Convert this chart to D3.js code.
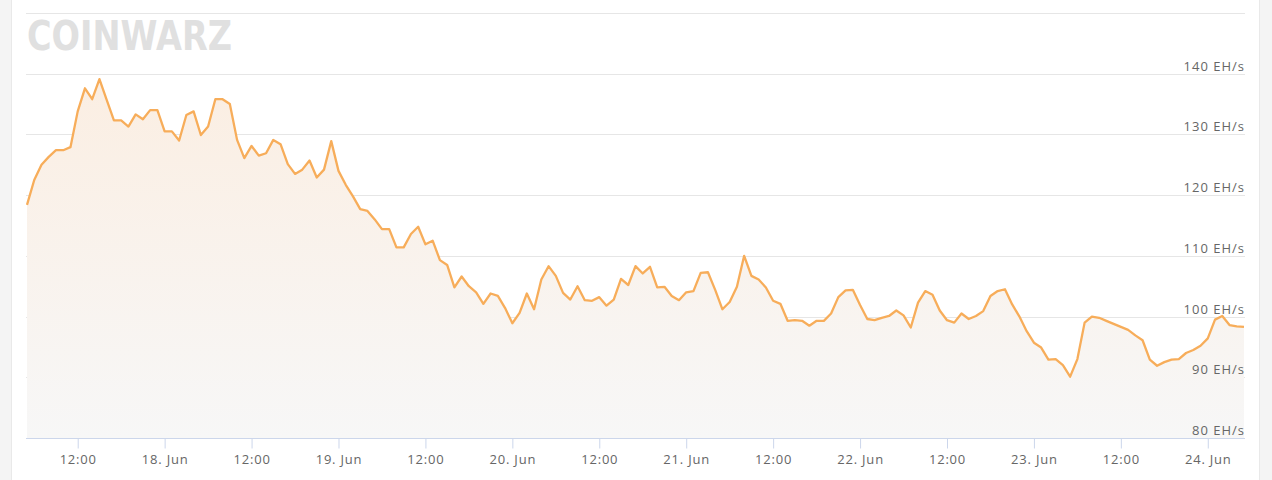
<!DOCTYPE html>
<html>
<head>
<meta charset="utf-8">
<script src="https://cdn.jsdelivr.net/npm/d3@7"></script>
<style>
  html, body { margin: 0; padding: 0; background: #fff; }
  svg { display: block; }
</style>
</head>
<body>
<svg id="chart" width="1272" height="480"></svg>
<script>
// ---- data ----
const startTime = "2021-06-17T05:00:00Z";   // first hourly sample
const stepHours = 1;
const hashrate = [
  118.4,122.5,125.0,126.3,127.4,127.4,127.9,133.8,137.6,135.8,
  139.1,135.7,132.3,132.3,131.3,133.3,132.5,134.0,134.0,130.5,
  130.5,129.0,133.2,133.8,129.9,131.3,135.8,135.8,135.0,129.1,
  126.1,128.1,126.5,126.9,129.1,128.4,125.1,123.5,124.2,125.7,
  122.9,124.2,128.9,124.0,121.7,119.8,117.7,117.4,116.0,114.4,
  114.4,111.4,111.4,113.6,114.8,111.9,112.5,109.3,108.5,104.8,
  106.6,105.0,104.0,102.1,103.8,103.4,101.4,98.9,100.6,103.8,
  101.2,106.1,108.3,106.7,103.9,102.8,105.0,102.7,102.6,103.2,
  101.8,102.8,106.2,105.2,108.3,107.1,108.2,104.8,104.9,103.4,
  102.7,104.0,104.2,107.2,107.3,104.4,101.2,102.4,104.9,110.0,
  106.7,106.1,104.8,102.6,102.1,99.3,99.4,99.3,98.5,99.3,
  99.3,100.5,103.2,104.3,104.4,101.9,99.6,99.4,99.8,100.1,
  101.0,100.2,98.2,102.3,104.2,103.6,101.0,99.4,99.0,100.5,
  99.6,100.1,100.9,103.4,104.2,104.5,102.0,100.0,97.6,95.7,
  94.9,92.9,93.0,92.0,90.1,93.0,99.0,100.0,99.8,99.3,
  98.8,98.3,97.8,96.9,96.1,92.9,91.9,92.5,92.9,93.0,
  94.0,94.5,95.2,96.4,99.5,100.1,98.6,98.4,98.3
];
const yTicks = [80, 90, 100, 110, 120, 130, 140, 150];
const yUnit = "EH/s";
const logoText = "COINWARZ";

// ---- build ----
const t0 = new Date(startTime);
const data = hashrate.map((v, i) => ({ t: d3.utcHour.offset(t0, i * stepHours), v }));

const svg = d3.select("#chart");
const W = 1272, H = 480;
const plot = { left: 26, right: 1245, top: 13, bottom: 438 };

// page frame
svg.append("rect").attr("x", 0).attr("y", 0).attr("width", W).attr("height", H).attr("fill", "#fff");
svg.append("rect").attr("x", 0).attr("y", 0).attr("width", 11).attr("height", H).attr("fill", "#f4f4f4");
svg.append("line").attr("x1", 11.5).attr("x2", 11.5).attr("y1", 0).attr("y2", H).attr("stroke", "#e9e9e9");
svg.append("rect").attr("x", 1260).attr("y", 0).attr("width", W - 1260).attr("height", H).attr("fill", "#f4f4f4");
svg.append("line").attr("x1", 1259.5).attr("x2", 1259.5).attr("y1", 0).attr("y2", H).attr("stroke", "#e9e9e9");

const x = d3.scaleUtc()
  .domain([data[0].t, data[data.length - 1].t])
  .range([27, 1244]);
const y = d3.scaleLinear().domain([80, 150]).range([plot.bottom, plot.top]);

// logo watermark
svg.append("text")
  .attr("x", 27).attr("y", 50)
  .attr("font-family", "DejaVu Sans")
  .attr("font-weight", "bold")
  .attr("font-size", 40)
  .attr("textLength", 205)
  .attr("lengthAdjust", "spacingAndGlyphs")
  .attr("fill", "#e0e0e0")
  .text(logoText);

// gridlines
svg.append("g").selectAll("line")
  .data(yTicks.filter(d => d !== 80))
  .join("line")
  .attr("x1", plot.left).attr("x2", plot.right)
  .attr("y1", d => Math.round(y(d)) + 0.5).attr("y2", d => Math.round(y(d)) + 0.5)
  .attr("stroke", "#e6e6e6").attr("stroke-width", 1);

// area gradient
const defs = svg.append("defs");
const grad = defs.append("linearGradient").attr("id", "areaGrad")
  .attr("gradientUnits", "userSpaceOnUse")
  .attr("x1", 0).attr("y1", y(140)).attr("x2", 0).attr("y2", plot.bottom);
grad.append("stop").attr("offset", "0%").attr("stop-color", "#fbeee2");
grad.append("stop").attr("offset", "100%").attr("stop-color", "#f7f7f7");

svg.append("path")
  .datum(data)
  .attr("fill", "url(#areaGrad)")
  .attr("d", d3.area().x(d => x(d.t)).y0(plot.bottom).y1(d => y(d.v)));

// x axis
const xAxis = d3.axisBottom(x)
  .ticks(d3.utcHour.every(12))
  .tickSize(10)
  .tickFormat(d => d.getUTCHours() === 0 ? d3.utcFormat("%-d. %b")(d) : d3.utcFormat("%H:%M")(d));
const gx = svg.append("g").attr("transform", `translate(0,${plot.bottom + 0.5})`).call(xAxis);
gx.select(".domain").remove();
gx.selectAll(".tick line").attr("stroke", "#ccd6eb");
gx.selectAll(".tick text")
  .attr("y", 25).attr("dy", 0)
  .attr("fill", "#666")
  .attr("font-family", "Open Sans")
  .attr("font-size", 13)
  .attr("letter-spacing", 0.8);
svg.append("line")
  .attr("x1", plot.left).attr("x2", plot.right)
  .attr("y1", plot.bottom + 0.5).attr("y2", plot.bottom + 0.5)
  .attr("stroke", "#ccd6eb");

// line
svg.append("path")
  .datum(data)
  .attr("fill", "none")
  .attr("stroke", "#f7ad5a")
  .attr("stroke-width", 2.3)
  .attr("stroke-linejoin", "round")
  .attr("d", d3.line().x(d => x(d.t)).y(d => y(d.v)));

// y labels (right, above gridlines)
svg.append("g").selectAll("text")
  .data(yTicks.filter(d => d !== 150))
  .join("text")
  .attr("x", 1245)
  .attr("y", d => y(d) - 3)
  .attr("text-anchor", "end")
  .attr("fill", "#666")
  .attr("font-family", "Open Sans")
  .attr("font-size", 13)
  .attr("letter-spacing", 1)
  .text(d => `${d} ${yUnit}`);
</script>
</body>
</html>
